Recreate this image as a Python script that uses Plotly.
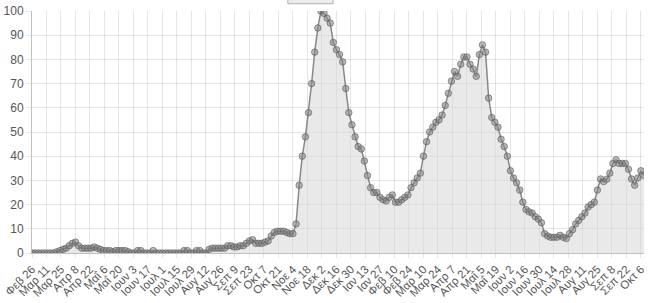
import pandas as pd
import plotly.graph_objects as go

# Sampling start and step (every 3 days) of the series
start_date = "2020-02-26"
step_days = 3

# Interest values (0-100), one per 3 days from 2020-02-26
values = [
    0, 0, 0, 0, 0, 0, 0, 0, 0.5, 1,            # d0..27
    1.5, 2, 3, 4, 4.5, 3, 2, 2, 2, 2,          # d30..57
    2.5, 2, 1.5, 1, 1, 1, 0.5, 1, 1, 1,        # d60..87
    1, 0.5, 0, 0, 1, 1, 0, 0, 0, 1,            # d90..117
    0, 0, 0, 0, 0, 0, 0, 0, 0, 1,              # d120..147
    1, 0, 0, 1, 1, 0, 0, 1.5, 2, 2,            # d150..177
    2, 2, 2, 3, 3, 2.5, 2.5, 3, 3, 4,          # d180..207
    5, 5.5, 4, 4, 4, 4.5, 5, 7, 8.5, 9,        # d210..237
    9, 9, 8.5, 8, 8, 12, 28, 40, 48, 58,       # d240..267
    70, 83, 93, 100, 99, 97, 95, 87, 84, 82,   # d270..297
    79, 68, 58, 53, 48, 44, 43, 38, 32, 27,    # d300..327
    25, 25, 23, 22, 21.5, 23, 24, 21, 21, 22,  # d330..357
    23, 24, 27, 29, 31, 33, 40, 46, 50, 52,    # d360..387
    54, 55, 57, 61, 66, 71, 75, 73, 78, 81,    # d390..417
    81, 78, 76, 73, 82, 86, 83, 64, 56, 54,    # d420..447
    52, 47, 44, 40, 34, 31, 29, 26, 21, 18,    # d450..477
    17, 16.5, 15, 14, 12.5, 8, 7, 6.5, 6.5, 6.5,  # d480..507
    7.3, 6.5, 6, 8, 9.6, 12, 13.5, 15, 16.5, 19,  # d510..537
    20, 21, 26, 30.6, 29.5, 30.5, 33, 37, 38.5, 37,  # d540..567
    37, 37, 34.6, 30.6, 28, 31, 34, 32,        # d570..591
]

# Axis tick labels (every 14 days from 2020-02-26)
tick_labels = [
    "Φεβ 26", "Μαρ 11", "Μαρ 25", "Απρ 8", "Απρ 22", "Μαΐ 6", "Μαΐ 20",
    "Ιουν 3", "Ιουν 17", "Ιουλ 1", "Ιουλ 15", "Ιουλ 29", "Αυγ 12", "Αυγ 26",
    "Σεπ 9", "Σεπ 23", "Οκτ 7", "Οκτ 21", "Νοε 4", "Νοε 18", "Δεκ 2",
    "Δεκ 16", "Δεκ 30", "Ιαν 13", "Ιαν 27", "Φεβ 10", "Φεβ 24", "Μαρ 10",
    "Μαρ 24", "Απρ 7", "Απρ 21", "Μαΐ 5", "Μαΐ 19", "Ιουν 2", "Ιουν 16",
    "Ιουν 30", "Ιουλ 14", "Ιουλ 28", "Αυγ 11", "Αυγ 25", "Σεπ 8", "Σεπ 22",
    "Οκτ 6",
]
tick_step_days = 14
y_ticks = [0, 10, 20, 30, 40, 50, 60, 70, 80, 90, 100]

dates = pd.date_range(start_date, periods=len(values), freq=f"{step_days}D")
tick_dates = pd.date_range(start_date, periods=len(tick_labels), freq=f"{tick_step_days}D")

grid = "rgba(0,0,0,0.1)"
font = dict(family="Liberation Sans, Arial, sans-serif", size=12, color="#555555")

fig = go.Figure()
fig.add_trace(go.Scatter(
    x=dates, y=values,
    mode="lines+markers",
    fill="tozeroy",
    fillcolor="rgba(215,215,215,0.55)",
    line=dict(color="rgba(110,110,110,0.8)", width=1.5),
    marker=dict(size=6.5, color="rgba(130,130,130,0.55)",
                line=dict(color="rgba(80,80,80,0.55)", width=1)),
    showlegend=False,
))

# clipped legend swatch at the top
fig.add_shape(type="rect", xref="paper", yref="paper",
              x0=0.418, x1=0.492, y0=1.03, y1=1.06,
              fillcolor="rgba(225,225,225,0.6)",
              line=dict(color="rgba(160,160,160,0.8)", width=1))

fig.update_layout(
    width=650, height=303,
    margin=dict(l=24, r=4, t=9, b=40),
    paper_bgcolor="white", plot_bgcolor="white",
    font=font,
)
fig.update_xaxes(
    range=[dates[0], dates[-1]],
    tickmode="array", tickvals=tick_dates, ticktext=tick_labels,
    tickangle=-45, tickfont=dict(size=11.5),
    showgrid=True, gridcolor=grid, gridwidth=1,
    showline=True, linecolor="rgba(0,0,0,0.25)", linewidth=1,
    ticks="outside", ticklen=4, tickcolor=grid,
    zeroline=False,
)
fig.update_yaxes(
    range=[0, 100],
    tickmode="array", tickvals=y_ticks,
    showgrid=True, gridcolor=grid, gridwidth=1,
    showline=True, linecolor="rgba(0,0,0,0.25)", linewidth=1,
    ticks="outside", ticklen=5, tickcolor=grid,
    zeroline=False,
)

fig.write_html("out.html")
